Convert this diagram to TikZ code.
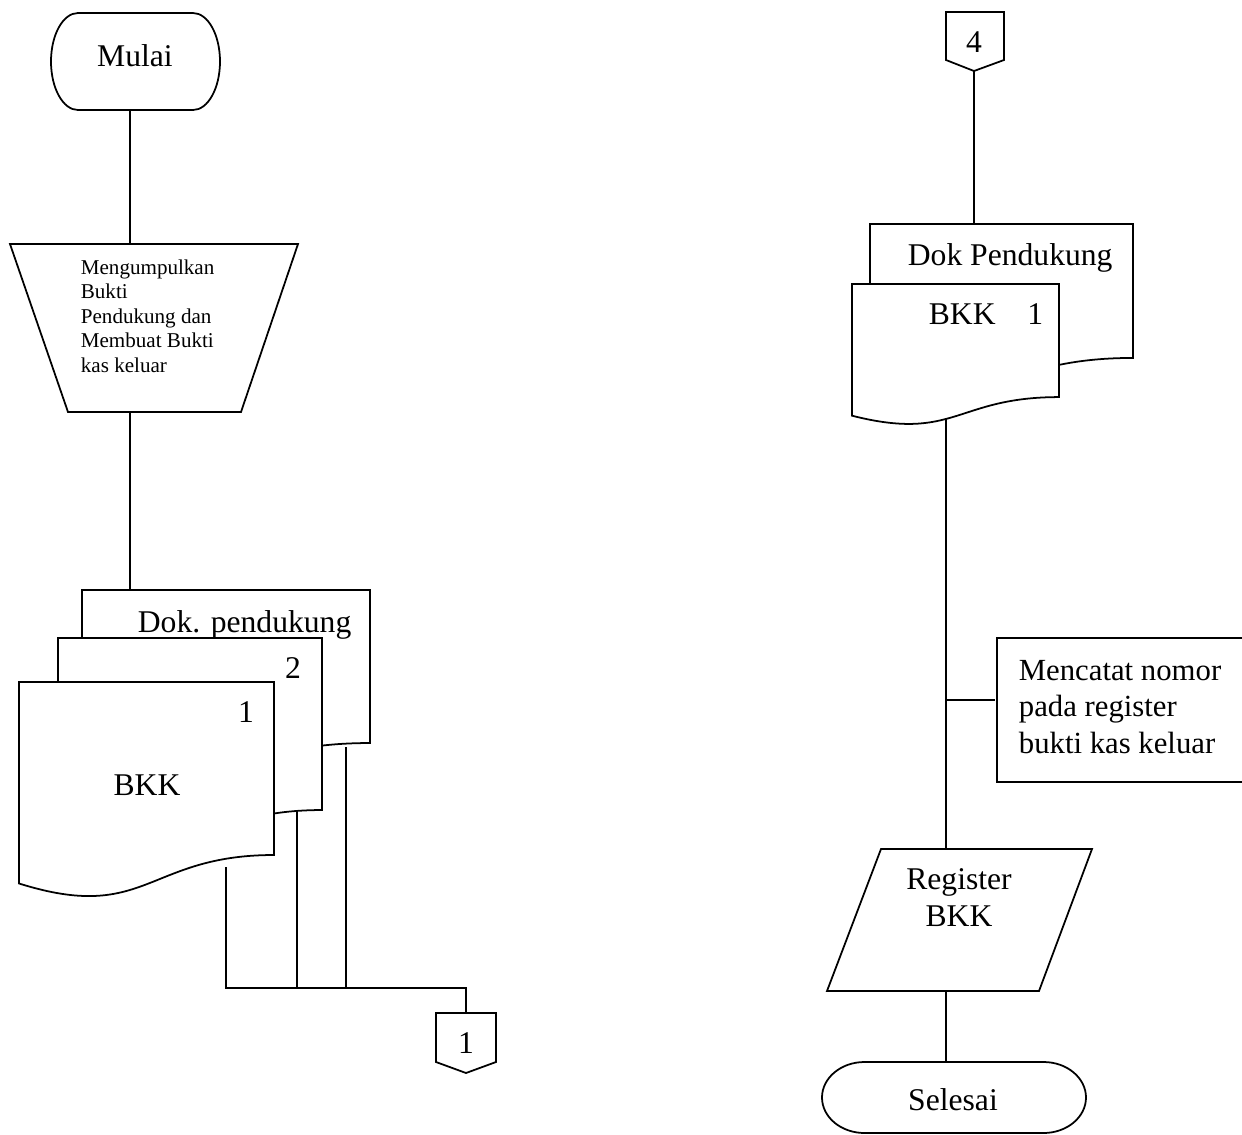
\documentclass[tikz,border=0pt]{standalone}
\usepackage{fontspec}
\setmainfont{Liberation Serif}

% dokumen: x kiri, y atas, x kanan, tinggi
\newcommand{\dokumen}[4]{%
	\draw[fill=white] (#1,#2) -- (#3,#2) -- (#3,{#2+0.802*#4})
		.. controls ({(#1+#3)/2},{#2+0.802*#4}) and ({(#1+#3)/2},{#2+1.12*#4}) .. (#1,{#2+0.934*#4}) -- cycle;}

\tikzset{
	teks/.style={font=\fontsize{18}{21}\selectfont, inner sep=0pt, anchor=base},
	tekskecil/.style={font=\fontsize{12}{13.9}\selectfont, inner sep=0pt, anchor=base west, align=left},
	tekskotak/.style={font=\fontsize{17.5}{20.5}\selectfont, inner sep=0pt, anchor=base west, align=left}
}

\begin{document}
\begin{tikzpicture}[x=0.02cm, y=-0.02cm, line width=1pt]
	% Batas
		\clip (0,0) rectangle (1242,1134);

	% Mulai
		\draw (78,13) -- (193,13) arc[start angle=270, end angle=450, x radius=27, y radius=48.5]
			-- (78,110) arc[start angle=90, end angle=270, x radius=27, y radius=48.5] -- cycle;
		\node[teks] (mulai) at (135,66) {Mulai};
		\coordinate (mulai-b) at (130,110);

	% Proses manual
		\draw (10,244) -- (298,244) -- (241,412) -- (68,412) -- cycle;
		\node[tekskecil] (kumpul) at (80,372) {Mengumpulkan\\Bukti\\Pendukung dan\\Membuat Bukti\\kas keluar};
		\coordinate (kumpul-a) at (130,244);
		\coordinate (kumpul-b) at (130,412);

	% Dokumen kiri
		\dokumen{82}{590}{370}{190.8}
		\dokumen{58}{638}{322}{214.5}
		\dokumen{19}{682}{274}{215.7}
		\node[teks, anchor=base west] (dokp) at (137,632) {Dok. pendukung};
		\node[teks] (lbr2) at (293,678) {2};
		\node[teks] (lbr1) at (246,722) {1};
		\node[teks] (bkk) at (147,795) {BKK};
		\coordinate (dokp-a) at (130,590);
		\coordinate (dokp-b) at (346,747);
		\coordinate (lbr2-b) at (297,810);
		\coordinate (bkk-b) at (226,867);

	% Penghubung 1
		\draw (436,1013) -- (496,1013) -- (496,1062) -- (466,1073) -- (436,1062) -- cycle;
		\node[teks] (kon1) at (466,1053) {1};
		\coordinate (kon1-a) at (466,1013);
		\coordinate (gabung) at (466,988);

	% Garis kiri
		\draw (mulai-b) -- (kumpul-a);
		\draw (kumpul-b) -- (dokp-a);
		\draw (bkk-b) |- (gabung) -- (kon1-a);
		\draw (lbr2-b) -- (lbr2-b |- gabung);
		\draw (dokp-b) -- (dokp-b |- gabung);

	% Penghubung 4
		\draw (946,12) -- (1004,12) -- (1004,60) -- (974,71) -- (946,60) -- cycle;
		\node[teks] (kon4) at (974,52) {4};
		\coordinate (kon4-b) at (974,71);

	% Dokumen kanan
		\dokumen{870}{224}{1133}{167}
		\dokumen{852}{284}{1059}{141}
		\node[teks, anchor=base west] (dokpk) at (907,265) {Dok Pendukung};
		\node[teks, anchor=base west] (bkkk) at (928,324) {BKK\quad 1};
		\coordinate (dokpk-a) at (974,224);
		\coordinate (bkkk-b) at (946,419);

	% Mencatat nomor
		\draw (1260,638) -- (997,638) -- (997,782) -- (1260,782);
		\node[tekskotak] (catat) at (1018,753) {Mencatat nomor\\pada register\\bukti kas keluar};
		\coordinate (catat-a) at (995,700);

	% Register BKK
		\draw (881,849) -- (1092,849) -- (1039,991) -- (827,991) -- cycle;
		\node[teks, align=center] (reg) at (959,926) {Register\\BKK};
		\coordinate (reg-a) at (946,849);
		\coordinate (reg-b) at (946,991);

	% Selesai
		\draw (864.5,1062) -- (1043.5,1062) arc[start angle=270, end angle=450, x radius=42.5, y radius=35.5]
			-- (864.5,1133) arc[start angle=90, end angle=270, x radius=42.5, y radius=35.5] -- cycle;
		\node[teks] (selesai) at (953,1110) {Selesai};
		\coordinate (selesai-a) at (946,1062);

	% Garis kanan
		\draw (kon4-b) -- (dokpk-a);
		\draw (bkkk-b) -- (reg-a);
		\draw (catat-a) -- (catat-a -| reg-a);
		\draw (reg-b) -- (selesai-a);
\end{tikzpicture}
\end{document}
